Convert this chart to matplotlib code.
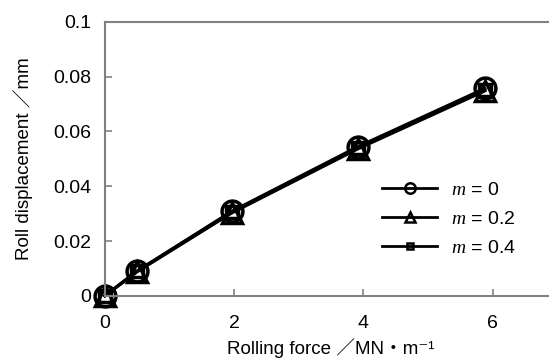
import matplotlib
matplotlib.use('Agg')
import matplotlib.pyplot as plt

plt.rcParams['font.family'] = ['Liberation Sans', 'Noto Sans CJK JP', 'DejaVu Sans']
plt.rcParams['mathtext.fontset'] = 'custom'
plt.rcParams['mathtext.it'] = 'Liberation Serif:italic'
plt.rcParams['mathtext.rm'] = 'Liberation Sans'

# Data
force = [0, 0.5, 1.96, 3.92, 5.88]
disp_m0 = [0, 0.0091, 0.0308, 0.0545, 0.0757]
disp_m02 = [0, 0.0088, 0.0302, 0.0537, 0.0748]
disp_m04 = [0, 0.0090, 0.0305, 0.0541, 0.0752]
labels = ['$m$ = 0', '$m$ = 0.2', '$m$ = 0.4']
markers = ['o', '^', 's']
sizes = [15, 15, 9]

fig = plt.figure(figsize=(5.49, 3.59), dpi=100)
ax = fig.add_axes([0.191, 0.176, 0.824, 0.763])

grey = '#808080'
for ys, lab, mk, ms in zip([disp_m0, disp_m02, disp_m04], labels, markers, sizes):
    ax.plot(force, ys, color='black', lw=2.2, marker=mk, ms=ms,
            mfc='none', mec='black', mew=2.5, label=lab, clip_on=False)

ax.set_xlim(0, 7)
ax.set_ylim(0, 0.1)
ax.set_xticks([0, 2, 4, 6])
ax.set_yticks([0, 0.02, 0.04, 0.06, 0.08, 0.1])
ax.set_yticklabels(['0', '0.02', '0.04', '0.06', '0.08', '0.1'])
ax.tick_params(direction='in', length=5, color=grey, width=1.2, labelsize=14)
ax.tick_params(axis='x', pad=14)
ax.tick_params(axis='y', pad=10)

for s in ['left', 'bottom', 'top']:
    ax.spines[s].set_color(grey)
    ax.spines[s].set_linewidth(1.5)
ax.spines['right'].set_visible(False)

ax.set_xlabel('Rolling force \uff0fMN\u30fbm\u207b\u00b9', fontsize=13.5, labelpad=4)
ax.set_ylabel('Roll displacement \uff0fmm', fontsize=13.5, labelpad=14)

leg = ax.legend(loc='center left', bbox_to_anchor=(0.575, 0.28), frameon=False,
                fontsize=14, markerscale=0.5, handlelength=2.8,
                handletextpad=0.7, labelspacing=0.6)
for h in leg.legend_handles:
    h.set_markeredgewidth(1.8)
    h.set_linewidth(2)

plt.savefig('out.png', dpi=100)
plt.close()
